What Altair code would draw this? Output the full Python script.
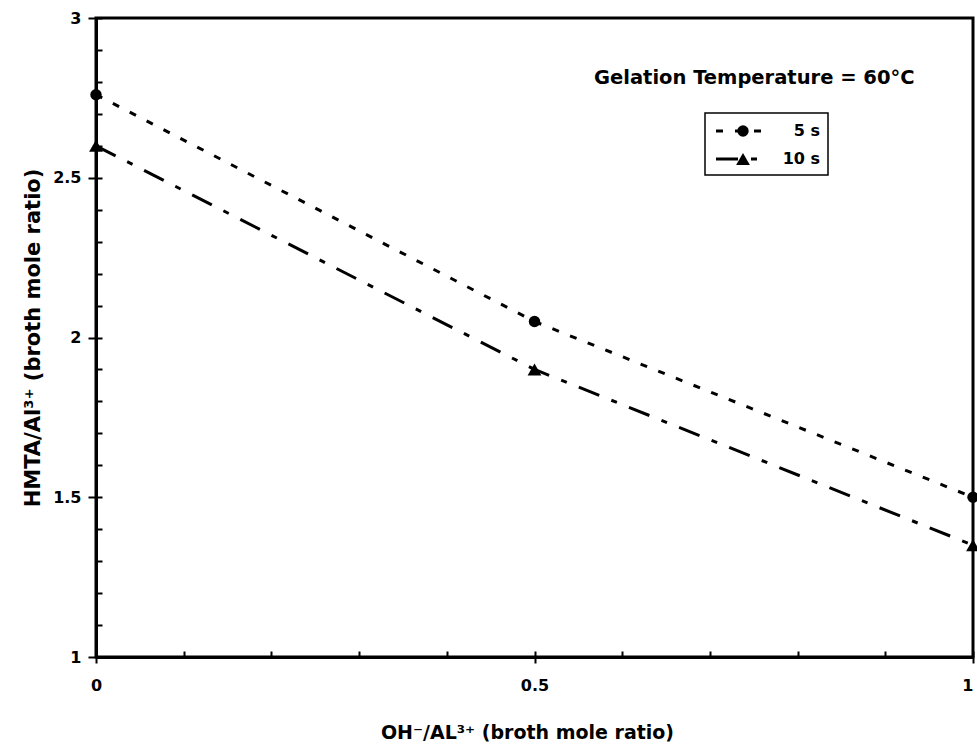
import altair as alt
import pandas as pd

# ---- data ----
x_vals = [0, 0.5, 1]
y_5s = [2.76, 2.05, 1.5]
y_10s = [2.6, 1.9, 1.35]
series = ["5 s", "10 s"]

x_major = [0, 0.5, 1]
x_minor = [0, 0.1, 0.2, 0.3, 0.4, 0.5, 0.6, 0.7, 0.8, 0.9, 1.0]
y_major = [1, 1.5, 2, 2.5, 3]
y_minor = [1, 1.1, 1.2, 1.3, 1.4, 1.5, 1.6, 1.7, 1.8, 1.9, 2, 2.1, 2.2,
           2.3, 2.4, 2.5, 2.6, 2.7, 2.8, 2.9, 3]

x_title = "OH\u207b/AL\u00b3\u207a (broth mole ratio)"
y_title = "HMTA/Al\u00b3\u207a (broth mole ratio)"
annotation = "Gelation Temperature = 60\u00b0C"

df = pd.DataFrame({
    "x": x_vals + x_vals,
    "y": y_5s + y_10s,
    "series": [series[0]] * len(x_vals) + [series[1]] * len(x_vals),
})
leg = pd.DataFrame({"series": series})
ann = pd.DataFrame({"t": [annotation]})

FONT = "DejaVu Sans"

xs = alt.Scale(domain=[0, 1], nice=False, zero=False)
ys = alt.Scale(domain=[1, 3], nice=False, zero=False)
dash_scale = alt.Scale(domain=series, range=[[7, 12], [22, 13, 6, 13]])
shape_scale = alt.Scale(domain=series, range=["circle", "triangle-up"])
size_scale = alt.Scale(domain=series, range=[130, 190])

x_axis_major = alt.Axis(
    values=x_major, format="~g", orient="bottom", grid=False,
    tickSize=6, tickWidth=2, tickColor="black",
    domainWidth=3, domainColor="black",
    labelFont=FONT, labelFontSize=16, labelFontWeight="bold", labelColor="black",
    labelPadding=14, labelFlush=False,
    labelAlign=alt.expr("datum.value >= 1 ? 'right' : 'center'"),
    titleFont=FONT, titleFontSize=19, titleFontWeight="bold", titleColor="black",
    titlePadding=30, titleX=431, titleAlign="center",
)
y_axis_major = alt.Axis(
    values=y_major, format="~g", orient="left", grid=False,
    tickSize=8, tickWidth=2, tickColor="black",
    domainWidth=3, domainColor="black",
    labelFont=FONT, labelFontSize=16, labelFontWeight="bold", labelColor="black",
    labelPadding=7, labelFlush=False,
    titleFont=FONT, titleFontSize=21, titleFontWeight="bold", titleColor="black",
    titlePadding=9,
)
x_axis_minor = alt.Axis(
    values=x_minor, orient="bottom", grid=False, domain=False, labels=False,
    tickSize=6, tickWidth=2, tickColor="black", offset=-6, title=None,
)
y_axis_minor = alt.Axis(
    values=y_minor, orient="left", grid=False, domain=False, labels=False,
    tickSize=6, tickWidth=2, tickColor="black", offset=-6, title=None,
)

lines = alt.Chart(df).mark_line(color="black", strokeWidth=3).encode(
    x=alt.X("x:Q", scale=xs, axis=x_axis_major, title=x_title),
    y=alt.Y("y:Q", scale=ys, axis=y_axis_major, title=y_title),
    strokeDash=alt.StrokeDash("series:N", scale=dash_scale, legend=None),
    detail="series:N",
)

points = alt.Chart(df).mark_point(filled=True, color="black", opacity=1).encode(
    x=alt.X("x:Q", scale=xs, axis=x_axis_minor),
    y=alt.Y("y:Q", scale=ys, axis=y_axis_minor),
    shape=alt.Shape("series:N", scale=shape_scale, legend=None),
    size=alt.Size("series:N", scale=size_scale, legend=None),
)

# ---- manual legend (Excel-style line + marker) ----
row_scale = alt.Scale(type="point", domain=series, range=[113, 141], padding=0)

leg_box = alt.Chart(ann).mark_rect(fill="white", stroke="black", strokeWidth=1.5).encode(
    x=alt.value(609), x2=alt.value(732), y=alt.value(95), y2=alt.value(157),
)
leg_lines = alt.Chart(leg).mark_rule(color="black", strokeWidth=3).encode(
    x=alt.value(620), x2=alt.value(666),
    y=alt.Y("series:N", scale=row_scale, axis=None),
    strokeDash=alt.StrokeDash("series:N", scale=dash_scale, legend=None),
)
leg_pts = alt.Chart(leg).mark_point(filled=True, color="black", opacity=1).encode(
    x=alt.value(647),
    y=alt.Y("series:N", scale=row_scale, axis=None),
    shape=alt.Shape("series:N", scale=shape_scale, legend=None),
    size=alt.Size("series:N", scale=size_scale, legend=None),
)
leg_text = alt.Chart(leg).mark_text(
    align="right", baseline="middle", font=FONT, fontSize=16, fontWeight="bold", color="black"
).encode(
    x=alt.value(724),
    y=alt.Y("series:N", scale=row_scale, axis=None),
    text="series:N",
)

ann_text = alt.Chart(ann).mark_text(
    align="left", baseline="middle", font=FONT, fontSize=19.5, fontWeight="bold", color="black"
).encode(
    x=alt.value(498), y=alt.value(60), text="t:N",
)

chart = alt.layer(
    lines, points, leg_box, leg_lines, leg_pts, leg_text, ann_text
).resolve_scale(
    y="independent"
).resolve_axis(
    x="independent", y="independent"
).properties(
    width=877, height=639,
    padding={"left": 96, "top": 18, "right": 4, "bottom": 92},
    autosize=alt.AutoSizeParams(type="none"),
    background="white",
).configure_view(
    stroke="black", strokeWidth=3
)

chart.save("out.html", embed_options={"renderer": "svg", "actions": False})
